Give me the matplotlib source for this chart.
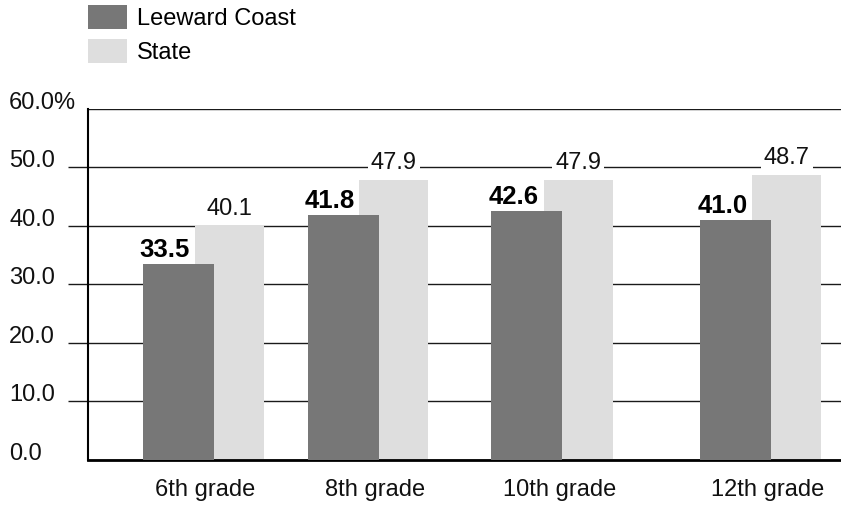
import matplotlib
matplotlib.use("Agg")
import matplotlib.pyplot as plt
from matplotlib.patches import Patch
from matplotlib.transforms import blended_transform_factory, offset_copy

plt.rcParams["font.family"] = ["Liberation Sans", "DejaVu Sans"]

# Data
grades = ["6th grade", "8th grade", "10th grade", "12th grade"]
leeward_coast = [33.5, 41.8, 42.6, 41.0]
state = [40.1, 47.9, 47.9, 48.7]
series_names = ["Leeward Coast", "State"]
y_ticks = [0, 10, 20, 30, 40, 50, 60]
y_tick_labels = ["0.0", "10.0", "20.0", "30.0", "40.0", "50.0", "60.0%"]

# Layout (x in axis units, one unit per pixel of plot width)
slot_x = [115, 280, 464, 673]
label_x = [117, 287, 472, 680]
dark_w, light_w = 71, 69
dark_shift, light_shift = -60.5, -8.5

DARK = "#777777"
LIGHT = "#dedede"
GRID = "#1a1a1a"
FS = 17

W, H = 841, 508
fig = plt.figure(figsize=(W / 100, H / 100), dpi=100)
ax_left, ax_bottom, ax_top = 88, 460, 108.7
ax = fig.add_axes([ax_left / W, (H - ax_bottom) / H, (W - ax_left) / W, (ax_bottom - ax_top) / H])
ax.set_xlim(0, W - ax_left)
ax.set_ylim(0, 60)

# bars: light (State) behind, dark (Leeward Coast) in front
dark_x = [s + dark_shift for s in slot_x]
light_x = [s + light_shift for s in slot_x]
ax.bar(light_x, state, width=light_w, align="edge", color=LIGHT, zorder=2)
ax.bar(dark_x, leeward_coast, width=dark_w, align="edge", color=DARK, zorder=3)

# value labels
for x, v in zip(dark_x, leeward_coast):
    ax.annotate(f"{v:.1f}", xy=(x, v), xytext=(-2, 5), textcoords="offset points",
                ha="left", va="baseline", fontsize=18.5, fontweight="bold",
                color="black", zorder=5)
for x, v in zip(light_x, state):
    ax.annotate(f"{v:.1f}", xy=(x + light_w / 2, v), xytext=(0, 7.5), textcoords="offset points",
                ha="center", va="baseline", fontsize=FS, color="#111111", zorder=5,
                bbox=dict(boxstyle="square,pad=0.12", fc="white", ec="none"))

# axes styling
ax.set_axisbelow(True)
ax.set_yticks([t for t in y_ticks if t not in (y_ticks[0], y_ticks[-1])])
ax.set_yticks([y_ticks[0], y_ticks[-1]], minor=True)
ax.yaxis.grid(True, which="both", color=GRID, linewidth=1.0)
ax.tick_params(axis="y", which="major", direction="out", length=14.4, width=1.0,
               color=GRID, labelleft=False)
ax.tick_params(axis="y", which="minor", length=0, labelleft=False)
ax.set_xticks([])
for lx, g in zip(label_x, grades):
    ax.annotate(g, xy=(lx, 0), xytext=(0, -14), textcoords="offset points",
                ha="center", va="top", fontsize=FS, color="#111111", annotation_clip=False)
for side in ("top", "right"):
    ax.spines[side].set_visible(False)
ax.spines["left"].set_linewidth(1.5)
ax.spines["bottom"].set_linewidth(2.0)
ax.spines["left"].set_color("black")
ax.spines["bottom"].set_color("black")

# y labels, left aligned at the figure margin
ytrans = offset_copy(blended_transform_factory(fig.transFigure, ax.transData),
                     fig=fig, x=0, y=6, units="dots")
for t, lab in zip(y_ticks, y_tick_labels):
    ax.text(9 / W, t, lab, transform=ytrans, ha="left", va="center",
            fontsize=FS, color="#111111", clip_on=False)

# legend
handles = [Patch(facecolor=DARK, edgecolor="none"), Patch(facecolor=LIGHT, edgecolor="none")]
fig.legend(handles, series_names, loc="upper left", bbox_to_anchor=(88 / W, 1 - 5 / H),
           frameon=False, borderpad=0, borderaxespad=0, handlelength=1.65,
           handleheight=1.2, handletextpad=0.42, labelspacing=0.38, fontsize=FS)

fig.savefig("out.png", dpi=100)
